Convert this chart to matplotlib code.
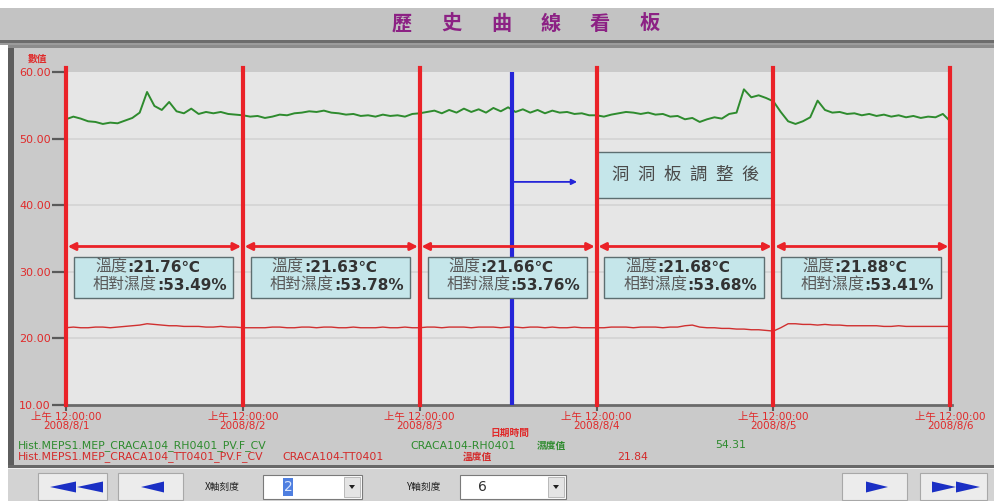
import matplotlib
matplotlib.use("Agg")
import matplotlib.pyplot as plt
from matplotlib.patches import Rectangle, Polygon

plt.rcParams["font.family"] = ["DejaVu Sans", "Noto Sans CJK TC"]

# ---------------------------------------------------------------- data
dates = ["2008/8/1", "2008/8/2", "2008/8/3", "2008/8/4", "2008/8/5", "2008/8/6"]
time_label = "上午 12:00:00"
y_ticks = [10, 20, 30, 40, 50, 60]

# hourly relative humidity (%), one list per day, plus the closing reading
rh_d1 = [52.9, 53.3, 53.0, 52.6, 52.5, 52.2, 52.4, 52.3, 52.7, 53.1, 53.9, 57.0,
         54.9, 54.3, 55.5, 54.1, 53.8, 54.5, 53.7, 54.0, 53.8, 54.0, 53.7, 53.6]
rh_d2 = [53.5, 53.3, 53.4, 53.1, 53.3, 53.6, 53.5, 53.8, 53.9, 54.1, 54.0, 54.2,
         53.9, 53.8, 53.6, 53.7, 53.4, 53.5, 53.3, 53.6, 53.4, 53.5, 53.3, 53.7]
rh_d3 = [53.8, 54.0, 54.2, 53.8, 54.3, 53.9, 54.5, 54.0, 54.4, 53.9, 54.6, 54.1,
         54.7, 54.0, 54.4, 53.9, 54.3, 53.8, 54.2, 53.9, 54.0, 53.7, 53.8, 53.5]
rh_d4 = [53.5, 53.3, 53.6, 53.8, 54.0, 53.9, 53.7, 53.9, 53.6, 53.7, 53.3, 53.4,
         52.9, 53.1, 52.5, 52.9, 53.2, 53.0, 53.7, 53.9, 57.4, 56.2, 56.5, 56.1]
rh_d5 = [55.6, 54.0, 52.6, 52.2, 52.6, 53.2, 55.7, 54.3, 53.9, 54.0, 53.7, 53.8,
         53.5, 53.7, 53.4, 53.6, 53.3, 53.5, 53.2, 53.4, 53.1, 53.3, 53.2, 53.7]
rh_end = [52.6]

# hourly temperature (°C)
tt_d1 = [21.6, 21.7, 21.6, 21.6, 21.7, 21.7, 21.6, 21.7, 21.8, 21.9, 22.0, 22.2,
         22.1, 22.0, 21.9, 21.9, 21.8, 21.8, 21.8, 21.7, 21.7, 21.8, 21.7, 21.7]
tt_d2 = [21.6, 21.6, 21.6, 21.6, 21.7, 21.7, 21.6, 21.6, 21.7, 21.7, 21.6, 21.7,
         21.7, 21.6, 21.6, 21.7, 21.6, 21.6, 21.6, 21.7, 21.6, 21.6, 21.7, 21.6]
tt_d3 = [21.6, 21.7, 21.7, 21.6, 21.7, 21.7, 21.7, 21.6, 21.7, 21.7, 21.7, 21.6,
         21.7, 21.7, 21.6, 21.7, 21.7, 21.6, 21.7, 21.6, 21.6, 21.7, 21.6, 21.6]
tt_d4 = [21.6, 21.6, 21.7, 21.7, 21.7, 21.6, 21.7, 21.7, 21.7, 21.6, 21.7, 21.7,
         21.9, 22.0, 21.7, 21.6, 21.6, 21.5, 21.5, 21.4, 21.4, 21.3, 21.3, 21.2]
tt_d5 = [21.1, 21.6, 22.2, 22.2, 22.1, 22.1, 22.0, 22.1, 22.0, 22.0, 21.9, 21.9,
         21.9, 21.9, 21.9, 21.8, 21.8, 21.9, 21.8, 21.8, 21.8, 21.8, 21.8, 21.8]
tt_end = [21.8]

# daily averages shown in the boxes
avg_temp = [21.76, 21.63, 21.66, 21.68, 21.88]
avg_rh = [53.49, 53.78, 53.76, 53.68, 53.41]

# latest readings
rh_now = 54.31
temp_now = 21.84

adjust_day = 2.52          # when the perforated panels were adjusted
adjust_note = "洞洞板調整後"

rh = rh_d1 + rh_d2 + rh_d3 + rh_d4 + rh_d5 + rh_end
temp = tt_d1 + tt_d2 + tt_d3 + tt_d4 + tt_d5 + tt_end
hours = [i / 24 for i in range(len(rh))]

# ---------------------------------------------------------------- figure
W, H = 994, 501
fig = plt.figure(figsize=(W / 100, H / 100), dpi=100, facecolor="white")

# window chrome, drawn in pixel coordinates
bg = fig.add_axes([0, 0, 1, 1], zorder=0)
bg.set_xlim(0, W)
bg.set_ylim(H, 0)
bg.axis("off")

def box(x, y, w, h, fc, ec="none", lw=0, z=1):
    bg.add_patch(Rectangle((x, y), w, h, facecolor=fc, edgecolor=ec, linewidth=lw, zorder=z))

box(0, 8, W, 32, "#c3c3c3")
box(0, 40, W, 3, "#6c6c6c")
box(0, 43, W, 2, "#9c9c9c")
box(8, 45, W - 8, 420, "#cacaca")
box(8, 45, 6, 420, "#5e5e5e")
box(8, 45, W - 8, 3, "#8c8c8c")
box(8, 465, W - 8, 36, "#d3d3d3")
box(8, 465, W - 8, 3, "#686868")
box(8, 468, W - 8, 1, "#f0f0f0")

title_chars = "歷史曲線看板"
for i, ch in enumerate(title_chars):
    bg.text(402 + i * 49.5, 23, ch, ha="center", va="center", fontsize=14.5,
            fontweight="bold", color="#8c2184", family=["Noto Sans CJK TC"])

bg.text(38, 59, "數值", ha="center", va="center", fontsize=7, fontweight="bold",
        color="#e02a2a", family=["Noto Sans CJK TC"])
bg.text(510, 433, "日期時間", ha="center", va="center", fontsize=7, fontweight="bold",
        color="#e02a2a", family=["Noto Sans CJK TC"])

green = "#2e8b2e"
red = "#d42a2a"
leg_fs = 7.8
bg.text(18, 446, "Hist.MEPS1.MEP_CRACA104_RH0401_PV.F_CV", ha="left", va="center",
        fontsize=leg_fs, color=green)
bg.text(410, 446, "CRACA104-RH0401", ha="left", va="center", fontsize=leg_fs, color=green)
bg.text(537, 446, "濕度值", ha="left", va="center", fontsize=7, color=green,
        fontweight="bold", family=["Noto Sans CJK TC"])
bg.text(715, 445, f"{rh_now:.2f}", ha="left", va="center", fontsize=leg_fs, color=green)
bg.text(18, 457, "Hist.MEPS1.MEP_CRACA104_TT0401_PV.F_CV", ha="left", va="center",
        fontsize=leg_fs, color=red)
bg.text(282, 457, "CRACA104-TT0401", ha="left", va="center", fontsize=leg_fs, color=red)
bg.text(463, 457, "溫度值", ha="left", va="center", fontsize=7, color=red,
        fontweight="bold", family=["Noto Sans CJK TC"])
bg.text(617, 457, f"{temp_now:.2f}", ha="left", va="center", fontsize=leg_fs, color=red)

# toolbar
btn_blue = "#1a2fc4"

def button(x0, x1):
    box(x0, 473, x1 - x0, 27, "#ececec", "#a8a8a8", 0.8, z=2)

def triangle(tip, base, cy=487, h=11):
    bg.add_patch(Polygon([(tip, cy), (base, cy - h / 2), (base, cy + h / 2)],
                         closed=True, facecolor=btn_blue, edgecolor="none", zorder=3))

button(38, 107)
triangle(50, 76)
triangle(77, 103)
button(118, 183)
triangle(141, 164)
button(842, 907)
triangle(888, 866)
button(920, 987)
triangle(956, 932)
triangle(980, 956)

bg.text(222, 487, "X軸刻度", ha="center", va="center", fontsize=7, color="#202020",
        family=["Noto Sans CJK TC"])
bg.text(423, 487, "Y軸刻度", ha="center", va="center", fontsize=7, color="#202020",
        family=["Noto Sans CJK TC"])

def combo(x0, x1, value, selected):
    box(x0, 475, x1 - x0, 24, "white", "#7a7a7a", 0.8, z=2)
    box(x1 - 18, 477, 16, 20, "#e4e4e4", "#b0b0b0", 0.6, z=3)
    bg.add_patch(Polygon([(x1 - 13, 485), (x1 - 7, 485), (x1 - 10, 489)], closed=True,
                         facecolor="#202020", zorder=4))
    if selected:
        box(x0 + 20, 478, 10, 18, "#4f7fe0", z=3)
        bg.text(x0 + 25, 487, value, ha="center", va="center", fontsize=10,
                color="#d8e6ff", zorder=4)
    else:
        bg.text(x0 + 22, 487, value, ha="center", va="center", fontsize=10,
                color="#303030", zorder=4)

combo(263, 362, "2", True)
combo(460, 566, "6", False)

# ---------------------------------------------------------------- chart
L, R, T, B = 66, 952, 72, 405
ax = fig.add_axes([L / W, 1 - B / H, (R - L) / W, (B - T) / H], zorder=1)
ax.set_facecolor("#e6e6e6")
ax.set_xlim(0, 5.01)
ax.set_ylim(y_ticks[0], y_ticks[-1])

for y in y_ticks[1:-1]:
    ax.axhline(y, color="#d3d3d3", lw=1.2, zorder=1)

ax.plot(hours, rh, color=green, lw=1.4, zorder=3)
ax.plot(hours, temp, color="#d03030", lw=1.0, zorder=3)

for d in range(len(dates)):
    ax.axvline(d, ymin=0, ymax=1.012, color="#ea2228", lw=3, clip_on=False, zorder=4)
ax.axvline(adjust_day, color="#2525d8", lw=3, zorder=4)

# per-day average boxes with span arrows
arrow_y = 33.8
box_lo, box_hi = 26.1, 32.2
for d, (t, h) in enumerate(zip(avg_temp, avg_rh)):
    ax.annotate("", xy=(d + 0.99, arrow_y), xytext=(d + 0.01, arrow_y),
                arrowprops=dict(arrowstyle="<|-|>", color="#ea2228", lw=2,
                                mutation_scale=11, shrinkA=0, shrinkB=0), zorder=5)
    x0 = d + 0.045
    ax.add_patch(Rectangle((x0, box_lo), 0.9, box_hi - box_lo, facecolor="#c5e6ea",
                           edgecolor="#5d6e70", lw=1.0, zorder=5))
    s1 = x0 + 53 / 176.8
    s2 = x0 + 83 / 176.8
    ax.text(s1, 30.7, "溫度", ha="right", va="center", fontsize=11.5, color="#5a5a5a",
            family=["Noto Sans CJK TC"], zorder=6)
    ax.text(s1, 30.7, f":{t:.2f}℃", ha="left", va="center", fontsize=11,
            fontweight="bold", color="#333333", zorder=6)
    ax.text(s2, 28.0, "相對濕度", ha="right", va="center", fontsize=11.5, color="#5a5a5a",
            family=["Noto Sans CJK TC"], zorder=6)
    ax.text(s2, 28.0, f":{h:.2f}%", ha="left", va="center", fontsize=11,
            fontweight="bold", color="#333333", zorder=6)

# note box after the adjustment
ax.add_patch(Rectangle((3, 41.1), 1, 6.9, facecolor="#c5e6ea", edgecolor="#5d6e70",
                       lw=1.0, zorder=3.5))
pitch = 26 / 176.8
for i, ch in enumerate(adjust_note):
    ax.text(3.5 + (i - 2.5) * pitch, 44.5, ch, ha="center", va="center", fontsize=12.5,
            color="#4a4a4a", family=["Noto Sans CJK TC"], zorder=6)
ax.annotate("", xy=(adjust_day + 0.37, 43.5), xytext=(adjust_day, 43.5),
            arrowprops=dict(arrowstyle="-|>", color="#2525d8", lw=1.3,
                            mutation_scale=8, shrinkA=0, shrinkB=0), zorder=5)

# axes, ticks and labels
for side in ("top", "right", "left"):
    ax.spines[side].set_visible(False)
ax.spines["bottom"].set_color("#6a6a6a")
ax.spines["bottom"].set_linewidth(2)

ax.set_yticks(y_ticks)
ax.set_yticklabels([f"{v:.2f}" for v in y_ticks])
ax.tick_params(axis="y", length=10, width=1.6, color="#5a5a5a", labelcolor="#e02a2a",
               labelsize=8, pad=1)
ax.set_xticks(range(len(dates)))
ax.set_xticklabels([f"{time_label}\n{d}" for d in dates], linespacing=0.85)
ax.tick_params(axis="x", length=4, width=1.5, color="#5a5a5a", labelcolor="#e02a2a",
               labelsize=7.5, pad=1)

fig.savefig("out.png", dpi=100, facecolor="white")
